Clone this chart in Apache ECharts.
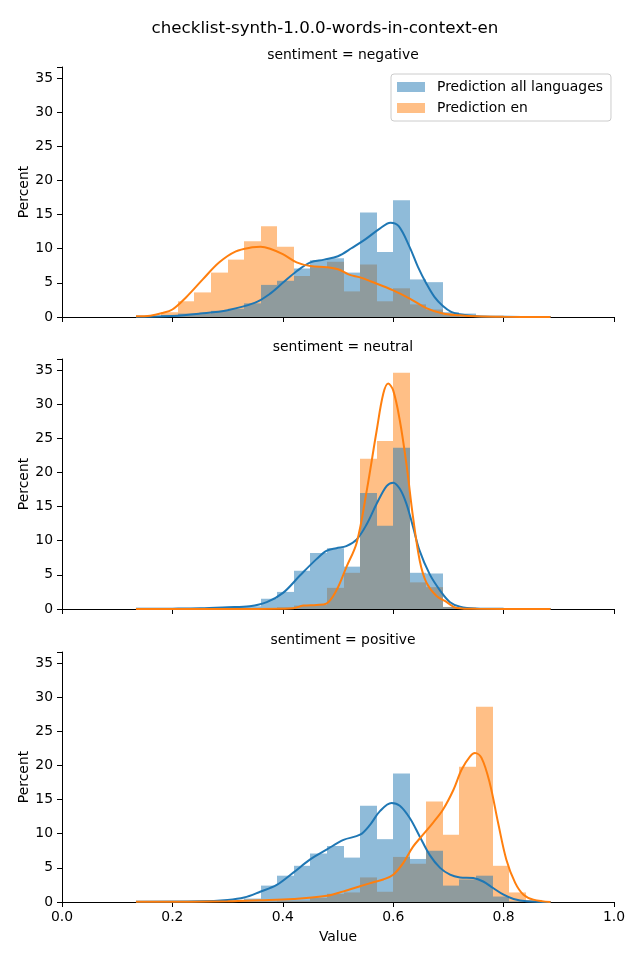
<!DOCTYPE html>
<html>
<head>
<meta charset="utf-8">
<script src="https://cdn.jsdelivr.net/npm/echarts@6/dist/echarts.min.js"></script>
<style>
html,body{margin:0;padding:0;background:#fff;}
#chart{width:640px;height:960px;}
</style>
</head>
<body>
<div id="chart"></div>
<script>
// ---------- data ----------
const suptitle = 'checklist-synth-1.0.0-words-in-context-en';
const panelTitles = ['sentiment = negative', 'sentiment = neutral', 'sentiment = positive'];
const seriesNames = ['Prediction all languages', 'Prediction en'];
const xTicks = [0.0, 0.2, 0.4, 0.6, 0.8, 1.0];
const yTicks = [0, 5, 10, 15, 20, 25, 30, 35];

// histogram bin edges (shared)
const binEdges = [0.134,0.15,0.18,0.21,0.24,0.27,0.30,0.33,0.36,0.39,0.42,0.45,0.48,0.51,0.54,0.57,0.60,0.63,0.66,0.69,0.72,0.75,0.78,0.81,0.84,0.87,0.885];

// percent per bin
const negAll = [0.1,0.1,0.3,0.5,0.5,0.9,1.2,2.0,4.7,5.3,7.1,8.3,8.6,6.5,15.3,9.5,17.1,5.5,5.1,0.7,0.5,0.1,0.1,0.1,0.1,0.1];
const negEn  = [0.1,0.1,0.7,2.3,3.6,6.5,8.4,11.1,13.3,10.3,6.0,7.3,8.1,3.75,7.7,2.3,4.2,1.85,1.1,0.35,0.1,0.1,0.1,0.1,0.1,0.1];
const neuAll = [0.1,0.1,0.1,0.1,0.1,0.2,0.3,0.4,1.5,2.5,5.6,8.2,8.9,6.2,17.0,12.2,23.6,5.3,5.2,0.3,0.1,0.1,0.1,0.1,0.1,0.1];
const neuEn  = [0.1,0.1,0.1,0.1,0.1,0.1,0.1,0.1,0.1,0.25,0.5,0.6,3.1,5.3,22.0,24.6,34.6,3.9,3.2,0.3,0.1,0.1,0.1,0.1,0.1,0.1];
const posAll = [0.1,0.1,0.1,0.1,0.1,0.1,0.2,0.5,2.4,3.85,5.3,7.1,8.2,6.5,14.1,9.2,18.8,6.3,7.5,2.4,3.3,3.85,0.8,0.1,0.1,0.1];
const posEn  = [0.1,0.1,0.1,0.1,0.1,0.1,0.1,0.1,0.1,0.2,0.2,0.6,1.2,1.4,3.6,1.5,6.6,5.6,14.7,9.85,19.8,28.6,5.3,1.4,0.3,0.1];

// KDE curves [value, percent density]
const kdeNegAll = [[0.134,0.03],[0.2,0.15],[0.25,0.5],[0.3,1.0],[0.35,2.1],[0.375,3.3],[0.4,5.0],[0.425,6.7],[0.45,8.0],[0.475,8.4],[0.5,8.9],[0.525,10.1],[0.55,11.4],[0.575,12.9],[0.595,13.8],[0.61,13.3],[0.63,10.2],[0.645,7.3],[0.66,4.9],[0.675,2.9],[0.69,1.6],[0.705,0.75],[0.72,0.4],[0.75,0.1],[0.8,0.03],[0.885,0.0]];
const kdeNegEn  = [[0.134,0.1],[0.16,0.2],[0.18,0.55],[0.2,1.1],[0.225,2.9],[0.255,5.5],[0.285,8.0],[0.315,9.6],[0.345,10.2],[0.36,10.3],[0.377,10.0],[0.4,9.2],[0.425,8.0],[0.45,7.45],[0.48,7.3],[0.5,7.0],[0.52,6.2],[0.54,5.8],[0.56,5.2],[0.6,3.9],[0.63,2.7],[0.66,1.3],[0.69,0.5],[0.72,0.25],[0.75,0.1],[0.8,0.02],[0.885,0.0]];
const kdeNeuAll = [[0.134,0.02],[0.2,0.05],[0.25,0.1],[0.3,0.25],[0.34,0.4],[0.371,1.0],[0.401,2.4],[0.431,4.9],[0.461,7.3],[0.479,8.5],[0.497,8.9],[0.515,9.2],[0.534,10.2],[0.552,12.4],[0.57,15.4],[0.588,18.0],[0.6,18.5],[0.612,17.6],[0.624,15.4],[0.636,12.0],[0.648,8.5],[0.666,5.1],[0.685,2.7],[0.703,1.0],[0.721,0.35],[0.75,0.08],[0.8,0.02],[0.885,0.0]];
const kdeNeuEn  = [[0.134,0.0],[0.3,0.0],[0.4,0.05],[0.419,0.1],[0.437,0.5],[0.461,0.6],[0.479,0.8],[0.497,2.7],[0.515,6.1],[0.534,9.75],[0.552,17.3],[0.57,26.1],[0.582,31.5],[0.591,33.0],[0.6,32.0],[0.612,27.6],[0.624,21.2],[0.636,13.4],[0.648,7.1],[0.66,3.9],[0.678,1.95],[0.697,1.0],[0.715,0.15],[0.75,0.02],[0.885,0.0]];
const kdePosAll = [[0.134,0.05],[0.25,0.1],[0.3,0.3],[0.33,0.65],[0.359,1.5],[0.389,2.5],[0.419,4.3],[0.449,6.2],[0.48,7.7],[0.51,9.1],[0.54,9.85],[0.558,11.3],[0.576,13.3],[0.597,14.5],[0.612,14.1],[0.63,12.3],[0.648,9.6],[0.666,6.9],[0.685,5.0],[0.703,4.0],[0.721,3.6],[0.745,3.5],[0.763,3.0],[0.781,2.05],[0.8,1.07],[0.818,0.45],[0.842,0.1],[0.885,0.0]];
const kdePosEn  = [[0.134,0.02],[0.3,0.1],[0.359,0.25],[0.419,0.45],[0.48,0.9],[0.51,1.55],[0.54,2.3],[0.564,2.9],[0.582,3.3],[0.6,4.0],[0.618,5.7],[0.636,8.1],[0.654,9.85],[0.672,11.6],[0.69,13.5],[0.709,16.4],[0.724,19.4],[0.739,21.3],[0.748,21.8],[0.76,21.1],[0.775,17.4],[0.79,11.6],[0.805,6.2],[0.821,2.8],[0.836,1.07],[0.854,0.35],[0.885,0.0]];

// ---------- chart ----------
const FONT = 'DejaVu Sans';
const blueFill = 'rgba(31,119,180,0.5)';
const orangeFill = 'rgba(255,127,14,0.5)';
const blueLine = '#1f77b4';
const orangeLine = '#ff7f0e';
const yMax = 36.6;

const panels = [
  {all: negAll, en: negEn, kAll: kdeNegAll, kEn: kdeNegEn},
  {all: neuAll, en: neuEn, kAll: kdeNeuAll, kEn: kdeNeuEn},
  {all: posAll, en: posEn, kAll: kdePosAll, kEn: kdePosEn}
];
const gridTops = [67, 359, 652];
const gridH = 250;

function toBins(vals){
  return vals.map((h,i)=>[binEdges[i], binEdges[i+1], h]);
}
function renderBar(params, api){
  const p0 = api.coord([api.value(0), api.value(2)]);
  const p1 = api.coord([api.value(1), 0]);
  const x0 = Math.round(p0[0]), x1 = Math.round(p1[0]);
  return {
    type: 'rect',
    shape: {x: x0, y: p0[1], width: x1 - x0, height: p1[1] - p0[1]},
    style: {fill: api.visual('color')}
  };
}

const grids = [], xAxes = [], yAxes = [], series = [], titles = [];
titles.push({text: suptitle, left: 320, top: 15, textAlign: 'center',
  textStyle: {fontFamily: FONT, fontSize: 16.7, fontWeight: 'normal', color: '#000'}});

panels.forEach((p, i) => {
  grids.push({left: 62, right: 26, top: gridTops[i], height: gridH, containLabel: false});
  titles.push({text: panelTitles[i], left: 338, top: gridTops[i] - 24, textAlign: 'center',
    textStyle: {fontFamily: FONT, fontSize: 13.9, fontWeight: 'normal', color: '#000'}});
  const last = i === panels.length - 1;
  xAxes.push({
    type: 'value', gridIndex: i, min: 0, max: 1, interval: 0.2,
    axisLine: {show: true, onZero: false, lineStyle: {color: '#000', width: 1}},
    axisTick: {show: true, length: 5, lineStyle: {color: '#000', width: 1}},
    axisLabel: {show: last, margin: 8, fontFamily: FONT, fontSize: 13.9, color: '#000',
      formatter: v => v.toFixed(1)},
    splitLine: {show: false},
    name: last ? 'Value' : '', nameLocation: 'middle', nameGap: 28, nameMoveOverlap: false,
    nameTextStyle: {fontFamily: FONT, fontSize: 13.9, color: '#000'}
  });
  yAxes.push({
    type: 'value', gridIndex: i, min: 0, max: yMax, interval: 5,
    axisLine: {show: true, lineStyle: {color: '#000', width: 1}},
    axisTick: {show: true, length: 5, lineStyle: {color: '#000', width: 1}},
    axisLabel: {margin: 9, fontFamily: FONT, fontSize: 13.9, color: '#000',
      formatter: v => (v > 35 ? '' : String(v))},
    splitLine: {show: false},
    name: 'Percent', nameLocation: 'middle', nameGap: 31, nameRotate: 90, nameMoveOverlap: false,
    nameTextStyle: {fontFamily: FONT, fontSize: 13.9, color: '#000'}
  });
  series.push({
    type: 'custom', name: seriesNames[1], xAxisIndex: i, yAxisIndex: i,
    itemStyle: {color: orangeFill}, renderItem: renderBar,
    encode: {x: [0, 1], y: 2}, data: toBins(p.en), silent: true
  });
  series.push({
    type: 'custom', name: seriesNames[0], xAxisIndex: i, yAxisIndex: i,
    itemStyle: {color: blueFill}, renderItem: renderBar,
    encode: {x: [0, 1], y: 2}, data: toBins(p.all), silent: true
  });
  series.push({
    type: 'line', name: 'kde-all-' + i, xAxisIndex: i, yAxisIndex: i,
    data: p.kAll, smooth: 0.35, showSymbol: false, symbol: 'none',
    lineStyle: {color: blueLine, width: 2}, itemStyle: {color: blueLine}, silent: true, z: 3
  });
  series.push({
    type: 'line', name: 'kde-en-' + i, xAxisIndex: i, yAxisIndex: i,
    data: p.kEn, smooth: 0.35, showSymbol: false, symbol: 'none',
    lineStyle: {color: orangeLine, width: 2}, itemStyle: {color: orangeLine}, silent: true, z: 3
  });
});

const chart = echarts.init(document.getElementById('chart'), null, {renderer: 'canvas'});
chart.setOption({
  animation: false,
  backgroundColor: '#fff',
  textStyle: {fontFamily: FONT},
  title: titles,
  grid: grids,
  xAxis: xAxes,
  yAxis: yAxes,
  legend: {
    data: seriesNames,
    orient: 'vertical',
    left: 391, top: 74,
    icon: 'rect',
    itemWidth: 28, itemHeight: 10, itemGap: 7,
    padding: [6, 8, 6, 6],
    backgroundColor: 'rgba(255,255,255,0.8)',
    borderColor: '#cccccc', borderWidth: 1, borderRadius: 3,
    selectedMode: false,
    textStyle: {fontFamily: FONT, fontSize: 13.9, color: '#000', padding: [0, 0, 0, 7]}
  },
  series: series
});
</script>
</body>
</html>
